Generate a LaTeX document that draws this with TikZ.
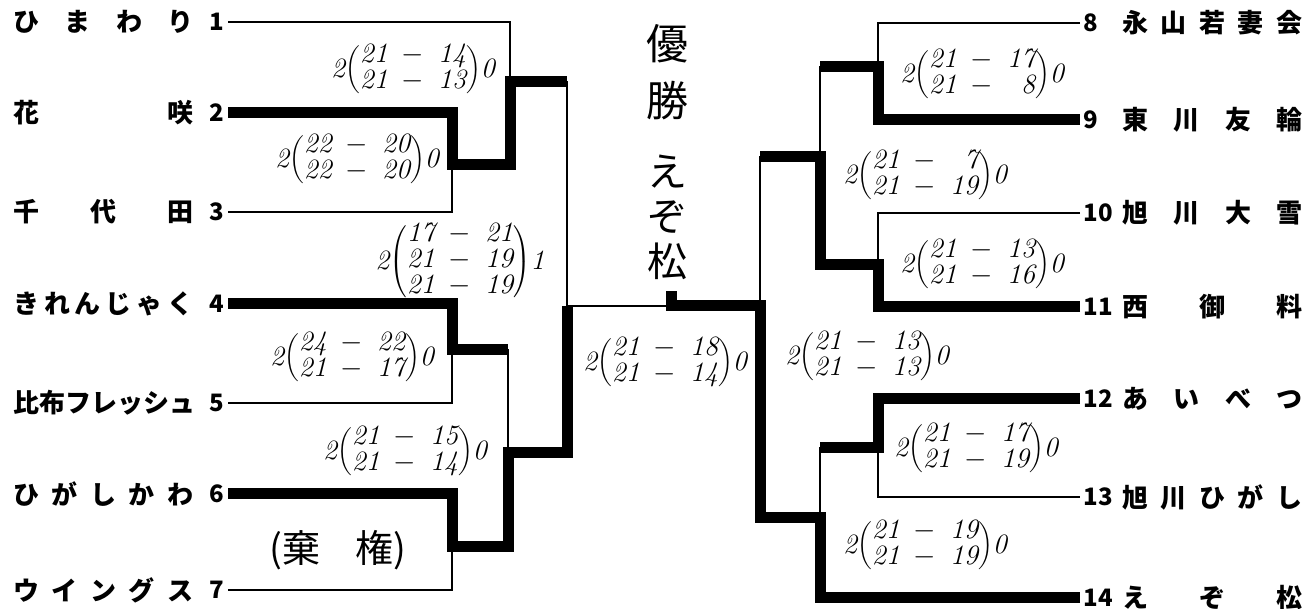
\documentclass[tikz,border=0pt]{standalone}
\usepackage{fontspec}
\usepackage{tikz}
\newfontfamily\jp{Noto Sans CJK JP}
\renewcommand{\arraystretch}{0.8}
\newcommand{\scm}{\enspace$-$\enspace}
\newcommand{\score}[3]{#1$\left(\begin{tabular}{@{}c@{}}#2\end{tabular}\right)$#3}
\newcommand{\spreadname}[1]{\makebox[90pt][s]{#1}}

\begin{document}
\begin{tikzpicture}[x=0.5pt,y=-0.5pt,
  line/.style={line width=1.3pt},
  win/.style={line width=5.5pt},
  lname/.style={anchor=west,inner sep=0pt,font=\jp\bfseries\fontsize{13}{15}\selectfont},
  rname/.style={lname},
  lnum/.style={anchor=east,inner sep=1.5pt,font=\jp\bfseries\fontsize{12}{14}\selectfont},
  rnum/.style={lnum,anchor=west},
  score/.style={inner sep=0pt,font=\fontsize{14}{15}\selectfont\itshape},
  hand/.style={inner sep=0pt,align=center,font=\jp\fontsize{19}{22}\selectfont}]
  \useasboundingbox (0,0) rectangle (1314,609);

  \node[lname] (nm1) at (13,22) {\spreadname{ひ\hfill ま\hfill わ\hfill り}};
  \node[lname] (nm2) at (13,113) {\spreadname{花\hfill 咲}};
  \node[lname] (nm3) at (13,212) {\spreadname{千\hfill 代\hfill 田}};
  \node[lname] (nm4) at (13,304) {\spreadname{き\hfill れ\hfill ん\hfill じ\hfill ゃ\hfill く}};
  \node[lname] (nm5) at (13,403) {\spreadname{比\hfill 布\hfill フ\hfill レ\hfill ッ\hfill シ\hfill ュ}};
  \node[lname] (nm6) at (13,494) {\spreadname{ひ\hfill が\hfill し\hfill か\hfill わ}};
  \node[lname] (nm7) at (13,590) {\spreadname{ウ\hfill イ\hfill ン\hfill グ\hfill ス}};
  \node[lnum] (n1) at (228,22) {1};
  \node[lnum] (n2) at (228,113) {2};
  \node[lnum] (n3) at (228,212) {3};
  \node[lnum] (n4) at (228,304) {4};
  \node[lnum] (n5) at (228,403) {5};
  \node[lnum] (n6) at (228,494) {6};
  \node[lnum] (n7) at (228,590) {7};

  \node[rnum] (n8) at (1080,23) {8};
  \node[rnum] (n9) at (1080,120) {9};
  \node[rnum] (n10) at (1080,213) {10};
  \node[rnum] (n11) at (1080,307) {11};
  \node[rnum] (n12) at (1080,399) {12};
  \node[rnum] (n13) at (1080,497) {13};
  \node[rnum] (n14) at (1080,598) {14};
  \node[rname] (nm8) at (1122,23) {\spreadname{永\hfill 山\hfill 若\hfill 妻\hfill 会}};
  \node[rname] (nm9) at (1122,120) {\spreadname{東\hfill 川\hfill 友\hfill 輪}};
  \node[rname] (nm10) at (1122,213) {\spreadname{旭\hfill 川\hfill 大\hfill 雪}};
  \node[rname] (nm11) at (1122,307) {\spreadname{西\hfill 御\hfill 料}};
  \node[rname] (nm12) at (1122,399) {\spreadname{あ\hfill い\hfill べ\hfill つ}};
  \node[rname] (nm13) at (1122,497) {\spreadname{旭\hfill 川\hfill ひ\hfill が\hfill し}};
  \node[rname] (nm14) at (1122,598) {\spreadname{え\hfill ぞ\hfill 松}};

  \node[score] (s1) at (413,70) {\score{2}{21\scm 14\\21\scm 13}{0}};
  \node[score] (s23) at (357,160) {\score{2}{22\scm 20\\22\scm 20}{0}};
  \node[score] (sl) at (460,262) {\score{2}{17\scm 21\\21\scm 19\\21\scm 19}{1}};
  \node[score] (s45) at (352,358) {\score{2}{24\scm 22\\21\scm 17}{0}};
  \node[score] (s47) at (405,452) {\score{2}{21\scm 15\\21\scm 14}{0}};
  \node[hand] (s67) at (338,550) {(棄\hspace{18pt}権)};
  \node[score] (sf) at (665,363) {\score{2}{21\scm 18\\21\scm 14}{0}};
  \node[score] (s89) at (982,75) {\score{2}{21\scm 17\\21\scm\phantom{0}8}{0}};
  \node[score] (s811) at (925,176) {\score{2}{21\scm\phantom{0}7\\21\scm 19}{0}};
  \node[score] (s1011) at (982,265) {\score{2}{21\scm 13\\21\scm 16}{0}};
  \node[score] (sr) at (867,357) {\score{2}{21\scm 13\\21\scm 13}{0}};
  \node[score] (s1213) at (976,449) {\score{2}{21\scm 17\\21\scm 19}{0}};
  \node[score] (s1214) at (925,546) {\score{2}{21\scm 19\\21\scm 19}{0}};
  \node[hand,font=\jp\fontsize{21}{28.5}\selectfont] (yusho) at (667,72) {優\\勝};
  \node[hand,font=\jp\fontsize{20}{22.5}\selectfont] (champ) at (667,217) {え\\ぞ\\松};

  \coordinate (a23) at (452,165);
  \coordinate (a45) at (452,350);
  \coordinate (a67) at (452,547);
  \coordinate (b13) at (510,82);
  \coordinate (b47) at (508,453);
  \coordinate (sfl) at (567,306);
  \coordinate (a89) at (878,67);
  \coordinate (a1011) at (878,265);
  \coordinate (a1213) at (878,448);
  \coordinate (b811) at (820,157);
  \coordinate (b1214) at (820,518);
  \coordinate (sfr) at (760,306);
  \coordinate (fin) at (671,306);

  \draw[line] (n1.east) -| (b13) |- (a23);
  \draw[line] (n2.east) -| (a23) |- (n3.east);
  \draw[line] (n4.east) -| (a45) |- (n5.east);
  \draw[line] (n6.east) -| (a67) |- (n7.east);
  \draw[line] (a45) -| (b47) |- (a67);
  \draw[line] (b13) -| (sfl) |- (b47);
  \draw[line] (sfl) -- (sfr);
  \draw[line] (n8.west) -| (a89) |- (n9.west);
  \draw[line] (n10.west) -| (a1011) |- (n11.west);
  \draw[line] (n12.west) -| (a1213) |- (n13.west);
  \draw[line] (a89) -| (b811) |- (a1011);
  \draw[line] (a1213) -| (b1214) |- (n14.west);
  \draw[line] (b811) -| (sfr) |- (b1214);

  \draw[win] (n2.east) -| (a23) -| (b13) -- (b13 -| sfl);
  \draw[win] (n4.east) -| (a45) -- (a45 -| b47);
  \draw[win] (n6.east) -| (a67) -| (b47) -| (sfl);
  \draw[win] (n9.west) -| (a89) -- (a89 -| b811);
  \draw[win] (n11.west) -| (a1011) -| (b811) -- (b811 -| sfr);
  \draw[win] (n12.west) -| (a1213) -- (a1213 -| b1214);
  \draw[win] (n14.west) -| (b1214) -| (sfr) -- (fin) -- ++(0,-15);
\end{tikzpicture}
\end{document}
